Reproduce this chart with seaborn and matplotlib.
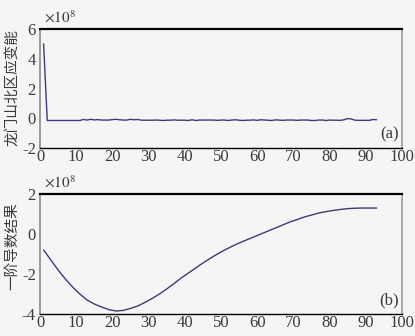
import matplotlib
matplotlib.use("Agg")
import matplotlib.pyplot as plt
import seaborn as sns
import pandas as pd
import numpy as np

# Data (values in units of 1e8)
top_x = list(range(1, 94))
top_y = [5.0, -0.15, -0.15, -0.15, -0.15, -0.15, -0.15, -0.15, -0.15, -0.15,
         -0.15, -0.08, -0.12, -0.07, -0.11, -0.09, -0.12, -0.12, -0.12, -0.09,
         -0.07, -0.10, -0.12, -0.12, -0.07, -0.10, -0.08, -0.13, -0.13, -0.13,
         -0.13, -0.12, -0.13, -0.15, -0.13, -0.13, -0.11, -0.13, -0.13, -0.13,
         -0.15, -0.10, -0.15, -0.12, -0.12, -0.12, -0.12, -0.12, -0.14, -0.12,
         -0.12, -0.15, -0.12, -0.10, -0.13, -0.15, -0.13, -0.13, -0.11, -0.14,
         -0.10, -0.12, -0.13, -0.15, -0.11, -0.12, -0.14, -0.12, -0.12, -0.12,
         -0.14, -0.12, -0.12, -0.12, -0.15, -0.15, -0.12, -0.12, -0.15, -0.12,
         -0.13, -0.13, -0.14, -0.10, -0.02, -0.05, -0.13, -0.14, -0.14, -0.14,
         -0.14, -0.08, -0.10]

bot_x = [1, 3, 5, 7, 9, 11, 13, 15, 17, 19, 21, 23, 25, 27, 29, 31, 33, 35,
         37, 39, 41, 43, 45, 47, 49, 51, 53, 55, 57, 59, 61, 63, 65, 67, 69,
         71, 73, 75, 77, 79, 81, 83, 85, 87, 89, 91, 93]
bot_y = [-0.8, -1.3, -1.8, -2.25, -2.65, -3.0, -3.3, -3.5, -3.65, -3.78,
         -3.85, -3.82, -3.72, -3.6, -3.42, -3.22, -3.0, -2.75, -2.48, -2.2,
         -1.95, -1.7, -1.45, -1.22, -1.0, -0.8, -0.62, -0.45, -0.3, -0.15,
         0.0, 0.15, 0.3, 0.45, 0.6, 0.72, 0.85, 0.95, 1.05, 1.12, 1.18, 1.23,
         1.27, 1.29, 1.3, 1.3, 1.3]

top_label = "龙门山北区应变能"
bot_label = "一阶导数结果"
x_ticks = [0, 10, 20, 30, 40, 50, 60, 70, 80, 90, 100]
top_yticks = [-2, 0, 2, 4, 6]
bot_yticks = [-4, -2, 0, 2]

sns.set_theme(style="white")
plt.rcParams['font.family'] = ['Liberation Serif', 'Noto Sans CJK SC']
plt.rcParams['mathtext.fontset'] = 'stix'
plt.rcParams['axes.unicode_minus'] = False

bg = "#f5f5f5"
line_c = "#3b3a7a"
txt_c = "#3a3a3a"

fig = plt.figure(figsize=(4.15, 3.36), dpi=100, facecolor=bg)
ax1 = fig.add_axes([0.0964, 0.5595, 0.8723, 0.354])
ax2 = fig.add_axes([0.0964, 0.0655, 0.8723, 0.357])

df1 = pd.DataFrame({"x": top_x, "y": top_y})
df2 = pd.DataFrame({"x": bot_x, "y": bot_y})
sns.lineplot(data=df1, x="x", y="y", ax=ax1, color=line_c, linewidth=1.0)
sns.lineplot(data=df2, x="x", y="y", ax=ax2, color=line_c, linewidth=1.0)

for ax, yl, yt, lab, ylim, ly in [
    (ax1, top_label, top_yticks, "(a)", (-2, 6), 1 - 88 / 336),
    (ax2, bot_label, bot_yticks, "(b)", (-4, 2), 1 - 246 / 336),
]:
    ax.set_facecolor(bg)
    ax.set_xlim(0, 100)
    ax.set_ylim(*ylim)
    ax.set_xticks(x_ticks)
    ax.set_yticks(yt)
    ax.set_xlabel("")
    ax.set_ylabel("")
    fig.text(12 / 415, ly, yl, family=['Noto Sans CJK SC'], fontsize=10.5,
             color=txt_c, rotation=90, ha='center', va='center')
    ax.tick_params(axis='both', labelsize=12, colors=txt_c, length=3, width=0.8)
    ax.tick_params(axis='x', direction='in', pad=1)
    ax.tick_params(axis='y', direction='out', pad=0)
    ax.spines['top'].set_color('black')
    ax.spines['top'].set_linewidth(1.6)
    ax.spines['bottom'].set_color('black')
    ax.spines['bottom'].set_linewidth(1.0)
    ax.spines['left'].set_color('#999999')
    ax.spines['left'].set_linewidth(1.4)
    ax.spines['right'].set_color('#aaaaaa')
    ax.spines['right'].set_linewidth(1.4)
    ax.text(0.99, 0.05, lab, transform=ax.transAxes, ha='right', va='bottom',
            fontsize=12, color=txt_c)
    ax.text(0.01, 1.03, r"$\times10^8$", transform=ax.transAxes, ha='left',
            va='bottom', fontsize=11, color=txt_c)

fig.savefig("out.png", dpi=100, facecolor=bg)
